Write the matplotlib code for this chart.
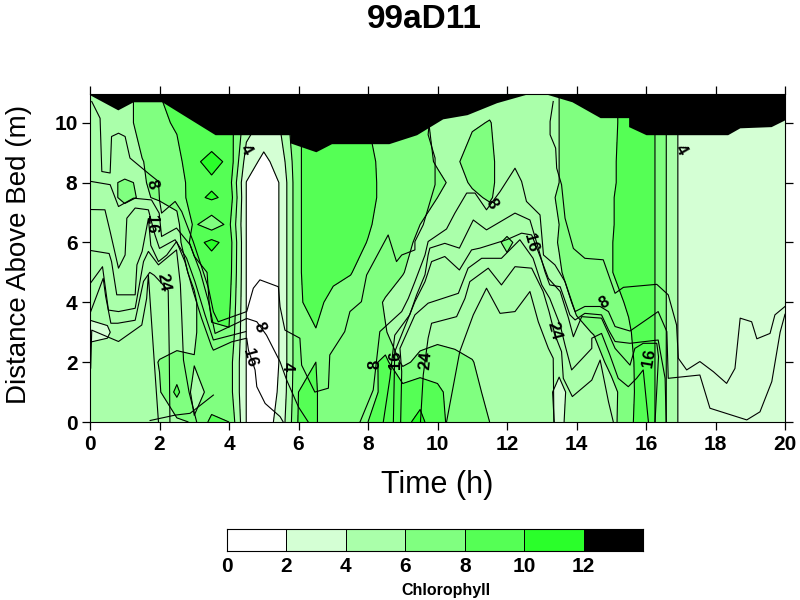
import numpy as np
import matplotlib
matplotlib.use("Agg")
import matplotlib.pyplot as plt
from matplotlib.colors import ListedColormap, BoundaryNorm

plt.rcParams["font.family"] = ["Liberation Sans", "DejaVu Sans"]

TITLE = "99aD11"
levels = [0, 2, 4, 6, 8, 10, 12, 14]
colors = ["#FFFFFF", "#D4FFD4", "#AAFFAA", "#80FF80", "#55FF55", "#2AFF2A", "#000000"]

# chlorophyll, one list per half hour
heights = [0, 1, 2, 3, 4, 5, 6, 6.6, 7.5, 8, 8.7, 10, 11]
hours = np.arange(0, 20.5, 0.5)
chl_columns = [
    [5, 5, 4.8, 3.6, 4.6, 5, 5, 5, 5, 5, 5, 5, 5],
    [5, 5, 4.8, 3.8, 4.7, 5, 5, 5, 5.7, 5.7, 5, 5, 5],
    [5, 5, 5, 5, 5, 5, 5, 5.3, 6.2, 6.2, 5, 5, 5],
    [5, 5, 5, 5, 5, 5, 5, 5.2, 5.9, 5.8, 5.9, 7, 7],
    [5.2, 5.8, 6.1, 5, 5, 5, 5, 5.3, 6.1, 6.6, 7, 7.5, 8],
    [5.6, 8.5, 6.5, 5.2, 5, 5, 5, 5.6, 6.4, 7, 7.3, 8.3, 8.5],
    [6.2, 5.3, 6.1, 5.7, 5.6, 6.6, 9.2, 8.3, 9.5, 9, 9.6, 9, 9],
    [8.5, 6.5, 7, 7.8, 8.4, 8.5, 10.6, 6.8, 10.3, 9.6, 10.7, 8, 8.7],
    [8, 7, 7, 7.9, 8.5, 9, 9.2, 8.5, 9.5, 9, 9.6, 9, 9],
    [1.95, 1.95, 1.95, 1.95, 1.95, 1.95, 1.95, 1.95, 1.95, 1.95, 3, 5, 5],
    [1, 1, 1, 1, 1, 1, 1, 1, 1, 1, 1.5, 3.5, 5],
    [2.8, 2.3, 2.15, 2.15, 2.15, 2.15, 2.15, 2.15, 2.15, 2.15, 2.9, 4.5, 5],
    [8.2, 8, 7.8, 7.8, 7.8, 7.8, 7.8, 7.8, 7.8, 7.8, 7.8, 7.8, 7.8],
    [8.1, 8.1, 8, 7.9, 8.6, 9, 9, 9, 9, 9, 9, 9, 9],
    [7, 7, 7, 7, 7.3, 8.6, 9, 9, 9, 9, 9, 9, 9],
    [7, 7, 7, 7, 7, 8.1, 9, 9, 9, 9, 9, 9, 9],
    [8, 7.3, 7.2, 7, 7, 7, 7.9, 8.3, 9, 9, 8.8, 8, 8],
    [8.8, 8.5, 8.6, 6.1, 5.8, 7, 7, 7, 7, 7, 7, 7, 7],
    [9.5, 9, 5.5, 5, 5, 6.1, 7, 7, 7, 7, 7, 7, 7],
    [10.5, 9.3, 6.6, 5, 5, 5, 5.3, 6, 7, 7, 7, 7, 7],
    [8.7, 8.4, 7, 5.3, 5, 5, 5, 5, 6, 6.6, 5.7, 5, 5],
    [7.2, 7.2, 6.6, 5.2, 5, 5, 5, 5, 5, 5.4, 5.6, 5, 5],
    [6.8, 6.8, 6.1, 5, 5, 5, 5, 5, 5.7, 6.2, 7, 5.7, 5],
    [6, 5.3, 5, 5, 5, 5, 5, 5, 6.2, 6.4, 6.4, 6.1, 5],
    [5, 5, 5, 5, 5, 5, 6.5, 5, 5, 5, 5, 5, 5],
    [5, 5, 5, 5, 5, 5, 5, 5, 5, 5, 5, 5, 5],
    [5, 5, 5, 5, 5, 5, 5, 5, 5, 5, 5, 5, 5],
    [3.6, 3.4, 4.6, 5, 5, 5.8, 6.1, 6, 6.3, 6, 6, 6, 6],
    [5, 5, 5, 5.5, 6.4, 7, 7, 7, 7, 7, 7, 7, 7],
    [5, 5, 5, 6.1, 7, 7, 7, 7, 7, 7, 7, 7, 7],
    [5.3, 5.3, 6.6, 7, 7.2, 7.9, 7.9, 7.8, 7.8, 7.6, 7.6, 7.4, 7.4],
    [7.4, 7.2, 7.3, 7.7, 8.3, 9, 9, 9, 9, 9, 9, 9, 9],
    [9.6, 9.6, 9.6, 9.6, 9.6, 9.6, 9.6, 9.6, 9.6, 9.6, 9.6, 9.6, 9.6],
    [6.5, 6.5, 6.5, 6.5, 6.5, 6.5, 6.5, 6.5, 6.5, 6.5, 6.5, 6.5, 6.5],
    [3.5, 3.5, 3.5, 3.5, 3.5, 3.5, 3.5, 3.5, 3.5, 3.5, 3.5, 3.5, 3.5],
    [3, 3, 3, 3, 3, 3, 3, 3, 3, 3, 3, 3, 3],
    [3, 3, 3, 3, 3, 3, 3, 3, 3, 3, 3, 3, 3],
    [3, 3, 3, 3, 3, 3, 3, 3, 3, 3, 3, 3, 3],
    [3, 3, 3, 3, 3, 3, 3, 3, 3, 3, 3, 3, 3],
    [3, 3, 3, 3, 3, 3, 3, 3, 3, 3, 3, 3, 3],
    [3, 3, 3, 3, 3, 3, 3, 3, 3, 3, 3, 3, 3],
]

# water surface
surface_t = [0, 0.8, 1.24, 2.07, 3.6, 5.75, 5.75, 6.5, 6.95, 8.6, 9.4, 10.15, 10.85, 11.7, 12.55, 13.15, 13.87, 14.68, 15.5, 15.5, 16, 18.35, 18.7, 19.6, 20]
surface_h = [10.93, 10.43, 10.7, 10.7, 9.6, 9.6, 9.33, 9.03, 9.3, 9.3, 9.6, 10.13, 10.27, 10.67, 10.95, 10.95, 10.7, 10.17, 10.17, 9.87, 9.6, 9.6, 9.83, 9.87, 10.1]

# second field, isolines as (hour, metres)
iso4_left = [(0.05, 10.71), (0.29, 10.15), (0.34, 8.37), (0.58, 8.32), (0.62, 9.54), (0.82, 9.65), (1.01, 9.54), (1.15, 8.82), (1.73, 8.26), (1.97, 8.04), (2.0, 7.42), (2.06, 6.98), (2.45, 7.37), (2.64, 7.03), (2.97, 6.03), (3.21, 5.19), (3.41, 4.47), (3.55, 3.69), (3.69, 3.35), (4.51, 3.69), (4.7, 4.47), (4.89, 4.75), (5.42, 4.52), (5.47, 3.85), (5.61, 3.07), (6.04, 2.8), (6.09, 1.9), (6.47, 1.0), (6.86, 1.13), (6.9, 2.24), (7.33, 3.02), (7.48, 3.69), (7.81, 4.02), (7.96, 4.91), (8.58, 6.25), (8.82, 5.36), (8.97, 5.58), (9.35, 5.75), (9.35, 6.03), (9.59, 6.59), (9.93, 7.93), (9.93, 8.82), (9.73, 9.6), (9.75, 9.85)]
iso4_right = [(13.33, 10.71), (13.24, 10.04), (13.24, 9.6), (13.4, 9.15), (13.43, 8.48), (13.57, 7.93), (13.67, 6.81), (13.91, 5.8), (14.24, 5.47), (14.77, 5.42), (15.11, 4.3), (15.35, 4.5), (16.31, 4.6), (16.64, 4.25), (16.88, 3.24), (16.93, 2.13), (17.17, 1.74), (17.55, 2.02), (17.94, 1.68), (18.32, 1.29), (18.56, 1.79), (18.71, 3.47), (19.04, 3.35), (19.19, 2.78), (19.57, 2.96), (19.71, 3.58), (20, 3.86)]
iso8_left = [(0.02, 8.04), (0.58, 7.93), (0.82, 7.2), (1.25, 7.48), (1.77, 7.42), (1.99, 6.98), (2.06, 6.2), (2.49, 6.48), (2.88, 5.92), (3.17, 5.03), (3.41, 4.02), (3.6, 2.96), (4.51, 3.46), (4.8, 3.35), (5.08, 2.9), (5.47, 2.01), (5.66, 1.4), (6.0, 0.5), (6.28, 0)]
iso8_right = [(7.77, 0), (8.15, 1.07), (8.34, 3.02), (8.97, 3.69), (9.16, 4.13), (9.35, 4.69), (9.64, 5.58), (9.73, 6.03), (10.26, 6.45), (10.5, 6.98), (10.84, 7.65), (11.08, 7.65), (11.41, 7.09), (11.8, 7.7), (12.23, 8.48), (12.42, 8.04), (12.56, 7.37), (12.95, 6.92), (13.05, 5.58), (13.38, 5.25), (13.67, 4.69), (13.96, 3.69), (14.24, 3.86), (14.68, 3.86), (14.92, 3.69), (15.11, 3.19), (15.54, 3.04), (16.35, 3.69), (16.6, 3.02), (16.64, 1.46), (17.55, 1.57), (17.84, 0.46), (18.9, 0.07), (19.28, 0.34), (19.62, 1.35), (19.86, 3.0), (20, 3.6)]
iso12_left = [(0.02, 7.1), (0.43, 7.09), (0.58, 6.36), (0.82, 5.14), (1.01, 5.58), (1.06, 6.81), (1.3, 7.15), (1.68, 7.09), (1.87, 6.25), (2.0, 5.8), (2.45, 6.09), (2.78, 5.47), (3.02, 4.69), (3.31, 3.58), (3.55, 2.74), (4.48, 3.02)]
iso12_right = [(8.44, 0), (8.63, 1.46), (8.77, 2.9), (9.2, 3.58), (9.4, 4.25), (9.64, 4.92), (9.73, 5.58), (9.78, 5.81), (10.21, 5.97), (10.63, 5.81), (11.03, 6.75), (11.41, 6.42), (12.23, 6.98), (12.66, 6.75), (12.9, 5.81), (13.09, 5.03), (13.23, 4.58), (13.53, 4.52), (13.81, 3.58), (13.96, 3.41), (14.24, 3.63), (14.72, 3.58), (14.92, 3.08), (15.11, 2.69), (15.54, 2.63), (16.35, 2.74), (16.55, 1.46), (16.58, 0)]
iso16_left = [(0.02, 5.73), (0.55, 5.63), (0.62, 5.36), (0.77, 4.25), (1.3, 4.25), (1.35, 5.25), (1.5, 5.7), (1.68, 6.8), (1.75, 5.9), (1.97, 5.36), (2.21, 5.58), (2.49, 6.03), (2.73, 5.36), (2.97, 4.36), (3.21, 3.47), (3.5, 2.52), (3.55, 2.4), (4.08, 2.68), (4.51, 2.8), (4.56, 2.4), (4.75, 1.74), (4.8, 1.18), (5.04, 0.62), (5.47, 0.18), (5.56, 0)]
iso16_right = [(8.73, 0), (8.77, 2.35), (9.35, 4.02), (9.64, 4.69), (9.83, 5.36), (10.21, 5.53), (10.63, 5.08), (10.98, 5.75), (11.22, 5.81), (11.99, 6.09), (12.42, 6.31), (12.71, 6.25), (12.9, 5.69), (13.19, 4.8), (13.53, 4.36), (13.77, 3.47), (13.91, 2.85), (14.15, 3.52), (14.72, 3.47), (14.92, 2.96), (15.11, 2.46), (15.54, 1.9), (15.68, 2.46), (15.92, 2.63), (16.31, 2.63), (16.36, 2.18), (16.26, 0)]
iso20_left = [(0.02, 4.65), (0.36, 5.19), (0.53, 3.74), (0.82, 3.69), (1.3, 3.8), (1.54, 5.36), (1.68, 5.7), (1.97, 5.25), (2.49, 5.75), (2.6, 4.6), (2.64, 3.52), (2.69, 2.07), (2.85, 1.0), (3.07, 0)]
iso20_right = [(8.94, 0), (8.97, 1.68), (8.92, 2.46), (9.35, 3.58), (9.73, 3.97), (10.6, 4.3), (10.88, 5.14), (11.27, 5.47), (11.84, 5.47), (12.37, 6.09), (12.75, 5.47), (13.0, 4.58), (13.23, 4.13), (13.53, 3.24), (13.67, 2.57), (13.86, 1.74), (14.44, 2.46), (14.44, 2.8), (14.72, 2.96), (14.96, 2.24), (15.2, 1.46), (15.49, 1.18), (15.73, 1.46), (15.92, 1.74), (16.07, 0)]
iso24_left = [(0.02, 3.69), (0.38, 4.8), (0.45, 4.2), (0.6, 3.3), (0.8, 3.3), (1.3, 3.4), (1.54, 4.7), (1.72, 5.0), (1.85, 4.9), (2.25, 4.4), (2.28, 2.35), (2.3, 0)]
iso24_right = [(9.51, 0), (9.59, 1.57), (9.73, 2.8), (9.83, 3.3), (10.55, 3.52), (10.79, 4.13), (10.93, 4.69), (11.46, 5.14), (11.84, 4.58), (12.23, 5.19), (12.71, 5.14), (13.04, 4.36), (13.21, 3.69), (13.38, 2.91), (13.57, 2.35), (13.62, 1.46), (13.88, 0.85), (14.44, 1.4), (14.68, 2.07), (14.92, 0.68), (15.06, 0)]
iso28_left = [(0.02, 1.8), (0.05, 3.07), (0.82, 2.69), (1.49, 3.24), (1.63, 4.13), (1.68, 4.91), (1.75, 3.7), (1.85, 2.0), (1.97, 0)]
iso28_right = [(10.26, 0), (10.64, 2.35), (11.03, 3.58), (11.41, 4.47), (11.8, 3.63), (12.23, 3.69), (12.66, 4.36), (12.9, 3.35), (13.19, 2.46), (13.33, 2.13), (13.35, 0)]
iso_bottom = [(1.73, 0.05), (2.45, 0.23), (2.88, 0.29), (3.55, 0.9)]

label_text = ["8", "16", "24", "4", "8", "16", "4", "8", "16", "24", "8", "16", "8", "24", "16", "4"]
label_t = [1.78, 1.76, 2.1, 4.49, 4.89, 4.6, 5.67, 8.2, 8.8, 9.67, 11.57, 12.69, 14.79, 13.35, 16.09, 17.01]
label_y = [7.93, 6.62, 4.68, 9.1, 3.18, 2.14, 1.84, 1.91, 2.07, 2.07, 7.29, 5.99, 3.98, 3.04, 2.14, 9.1]
label_rot = [-75, -90, -80, -60, -65, -75, -90, 90, 90, 85, -60, -75, 30, -75, 80, -60]

x_ticks = [0, 2, 4, 6, 8, 10, 12, 14, 16, 18, 20]
y_ticks = [0, 2, 4, 6, 8, 10]

fig = plt.figure(figsize=(8, 6), dpi=100)
ax = fig.add_axes([90 / 800, 1 - 422 / 600, 695 / 800, 328 / 600])

chl = np.array(chl_columns).T
ax.contourf(hours, heights, chl, levels=levels[:-1], colors=colors[:-1])
ax.contour(hours, heights, chl, levels=levels[1:-1], colors="black", linewidths=0.8)

for line in [iso4_left, iso4_right, iso8_left, iso8_right, iso12_left, iso12_right,
             iso16_left, iso16_right, iso20_left, iso20_right, iso24_left, iso24_right,
             iso28_left, iso28_right, iso_bottom]:
    xs, ys = zip(*line)
    ax.plot(xs, ys, color="black", linewidth=0.8)

ax.fill_between(surface_t, surface_h, 11, color="black", linewidth=0, zorder=3)

for txt, t, y, rot in zip(label_text, label_t, label_y, label_rot):
    ax.text(t, y, txt, rotation=rot, ha="center", va="center", fontsize=12, fontweight="bold", zorder=4)

ax.set_xlim(0, 20)
ax.set_ylim(0, 10.96)
ax.set_xticks(x_ticks)
ax.set_yticks(y_ticks)
ax.tick_params(direction="out", length=6, width=0.9, top=True, right=True, labelsize=15, pad=3)
for lab in ax.get_xticklabels() + ax.get_yticklabels():
    lab.set_fontweight("bold")
ax.set_xlabel("Time (h)", fontsize=22, va="center")
ax.xaxis.set_label_coords(0.5, -0.192)
ax.set_ylabel("Distance Above Bed (m)", fontsize=20, va="center")
ax.yaxis.set_label_coords(-0.102, 0.512)
fig.text(424 / 800, 1 - 19 / 600, TITLE, ha="center", va="center", fontsize=24, fontweight="bold")

# colour key
cax = fig.add_axes([227 / 800, 1 - 551 / 600, 416 / 800, 22 / 600])
cmap = ListedColormap(colors)
norm = BoundaryNorm(levels, cmap.N)
cax.pcolormesh(levels, [0, 1], [np.array(levels[:-1]) + 1], cmap=cmap, norm=norm, edgecolors="black", linewidth=0.6)
cax.set_yticks([])
cax.set_xticks(levels[:-1])
cax.tick_params(length=0, labelsize=15, pad=4)
for lab in cax.get_xticklabels():
    lab.set_fontweight("bold")
cax.set_xlabel("Chlorophyll", fontsize=11.5, fontweight="bold", va="center")
cax.xaxis.set_label_coords((446 - 227) / 416, -(591 - 551) / 22)

fig.savefig("out.png", dpi=100)
